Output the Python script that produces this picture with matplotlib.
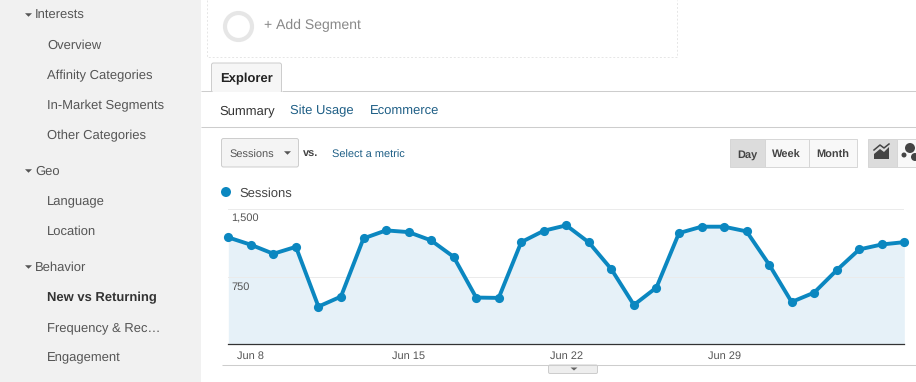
import matplotlib
matplotlib.use("Agg")
import matplotlib.pyplot as plt
from matplotlib.patches import Rectangle, Circle, FancyBboxPatch, Polygon
from matplotlib.transforms import blended_transform_factory

plt.rcParams['font.family'] = ['Liberation Sans', 'DejaVu Sans']
plt.rcParams['text.hinting'] = 'no_hinting'
plt.rcParams['text.hinting_factor'] = 1

# daily sessions, Jun 7 - Jul 7
sessions = [1185, 1104, 1004, 1081, 419, 530, 1174, 1263, 1244, 1152, 970, 519, 515, 1133, 1259,
            1319, 1130, 833, 437, 630, 1233, 1304, 1304, 1252, 885, 470, 574, 822, 1052, 1107, 1133]
day_index = list(range(len(sessions)))
date_ticks = [1, 8, 15, 22]
date_labels = ['Jun 8', 'Jun 15', 'Jun 22', 'Jun 29']
y_ticks = [750, 1500]
y_labels = ['750', '1,500']

nav_headers = ['Interests', 'Geo', 'Behavior']
nav_items = ['Overview', 'Affinity Categories', 'In-Market Segments', 'Other Categories',
             'Language', 'Location', 'New vs Returning', 'Frequency & Rec…', 'Engagement']
sub_tabs = ['Summary', 'Site Usage', 'Ecommerce']
range_buttons = ['Day', 'Week', 'Month']

BLUE = '#0b87c0'
LINK = '#1f5f86'
W, H = 916, 382

fig = plt.figure(figsize=(W / 100, H / 100), dpi=100, facecolor='white')

# page furniture is drawn in pixel coordinates
ui = fig.add_axes([0, 0, 1, 1])
ui.set_xlim(0, W)
ui.set_ylim(H, 0)
ui.axis('off')


def label(x, y, s, size=13, color='#444444', **kw):
    # size given in px
    kw.setdefault('va', 'center_baseline')
    ui.text(x, y, s, fontsize=size * 0.72, color=color, **kw)


def arrow(x, y, w=4, h=3.5, color='#555555'):
    ui.add_patch(Polygon([(x - w, y - h / 2), (x + w, y - h / 2), (x, y + h / 2)], closed=True, fc=color, ec='none'))


def hline(y, x0, x1, color='#cdcdcd', lw=0.75):
    ui.plot([x0, x1], [y, y], color=color, lw=lw, solid_capstyle='butt')


# sidebar
ui.add_patch(Rectangle((0, 0), 201, H, fc='#f1f1f1', ec='none'))
for name, y in zip(nav_headers, [14.5, 170.5, 266.5]):
    arrow(28.5, y + 0.5, w=3.5, h=3.5)
    label(35, y, name, color='#555555')
for name, y in zip(nav_items, [44.5, 74.5, 104.5, 134.5, 200.5, 230.5, 296.5, 326.5, 356.5]):
    if name == 'New vs Returning':
        label(47, y, name, color='#333333', fontweight='bold')
    else:
        label(47, y, name, color='#555555')

# segment box
ui.plot([206.5, 206.5, 677, 677], [0, 56.5, 56.5, 0], color='#e6e6e6', lw=0.7, ls=(0, (2, 2)))
ui.add_patch(Circle((238.5, 26.5), 13.5, fc='none', ec='#e6e6e6', lw=3))
label(264, 24.5, '+ Add Segment', size=14, color='#888888')

# tabs
ui.add_patch(FancyBboxPatch((211.5, 63), 70, 30, boxstyle='round,pad=0,rounding_size=2',
                            fc='#f6f6f6', ec='#cccccc', lw=0.7))
ui.add_patch(Rectangle((211, 91.5), 71, 3, fc='white', ec='none'))
hline(91, 201, 211.5)
hline(91, 281.5, W)
label(220, 78, 'Explorer', color='#222222', fontweight='bold')
for name, x in zip(sub_tabs, [219, 290.5, 370]):
    label(x, 110, name, color='#333333' if name == 'Summary' else LINK)
hline(127, 201, W)

# metric selector
ui.add_patch(FancyBboxPatch((221.5, 138.5), 77, 28.5, boxstyle='round,pad=0,rounding_size=2',
                            fc='#f4f4f4', ec='#cccccc', lw=0.7))
label(229, 153.5, 'Sessions', size=11, color='#555555')
arrow(287.5, 153, w=3.5, h=3.5)
label(303, 153, 'vs.', size=11, color='#444444', fontweight='bold')
label(331.5, 153.5, 'Select a metric', size=11, color=LINK)

# day / week / month buttons
for name, x0, x1 in zip(range_buttons, [730, 764.5, 808.5], [764.5, 808.5, 856.5]):
    active = name == 'Day'
    ui.add_patch(Rectangle((x0, 138.5), x1 - x0, 28.5, fc='#dcdcdc' if active else '#f8f8f8', ec='#d6d6d6', lw=0.7))
    label((x0 + x1) / 2, 153.5, name, size=11, color='#444444', ha='center', fontweight='bold')

# chart type buttons
ui.add_patch(Rectangle((867.5, 138.5), 29.5, 28.5, fc='#dcdcdc', ec='#d6d6d6', lw=0.7))
ui.add_patch(Rectangle((897, 138.5), 20, 28.5, fc='#f8f8f8', ec='#d6d6d6', lw=0.7))
ui.add_patch(Polygon([(874, 159), (874, 154), (880, 149), (884, 152), (889, 147), (889, 159)], closed=True,
                     fc='#444444', ec='none'))
ui.plot([874, 880, 884, 889], [150, 145, 148, 144], color='#444444', lw=1.1)
for cx, cy, r in [(910, 148, 5), (904, 155, 2.5), (915, 157, 4)]:
    ui.add_patch(Circle((cx, cy), r, fc='#444444', ec='none'))

# legend
ui.add_patch(Circle((226, 192), 5, fc=BLUE, ec='none'))
label(239.5, 192.5, 'Sessions', color='#444444')

# bottom rule and collapse handle
hline(365, 222, W)
ui.add_patch(FancyBboxPatch((548.5, 365), 49, 8.5, boxstyle='round,pad=0,rounding_size=1.5',
                            fc='#eeeeee', ec='#cccccc', lw=0.7))
arrow(574, 369, w=3.5, h=3, color='#666666')

# chart
left, right, top, bottom = 228.3, 904.3, 209, 344.4
ax = fig.add_axes([left / W, 1 - bottom / H, (right - left) / W, (bottom - top) / H])
ax.patch.set_alpha(0)
ax.set_xlim(0, len(sessions) - 1)
ax.set_ylim(0, 1500)
ax.fill_between(day_index, sessions, 0, color='#e6f1f8', lw=0, zorder=1)
ax.set_yticks(y_ticks)
ax.set_yticklabels([])
ax.yaxis.grid(True, color='#ebebeb', lw=0.7, zorder=2)
ax.set_axisbelow(False)
ax.tick_params(axis='y', length=0)
ax.set_xticks(date_ticks)
ax.set_xticklabels(date_labels, fontsize=11 * 0.72, color='#555555')
ax.tick_params(axis='x', length=0, pad=4.5)
for side in ['top', 'left', 'right']:
    ax.spines[side].set_visible(False)
ax.spines['bottom'].set_color('#333333')
ax.spines['bottom'].set_linewidth(0.9)
ax.plot(day_index, sessions, color=BLUE, lw=2.8, marker='o', ms=6.6, mew=0, clip_on=False, zorder=3)

trans = blended_transform_factory(ax.transAxes, ax.transData)
for v, s in zip(y_ticks, y_labels):
    ax.annotate(s, xy=(0, v), xycoords=trans, xytext=(3, -10), textcoords='offset pixels',
                fontsize=11 * 0.72, color='#555555', va='center', ha='left', zorder=4)

fig.savefig('out.png', dpi=100)
